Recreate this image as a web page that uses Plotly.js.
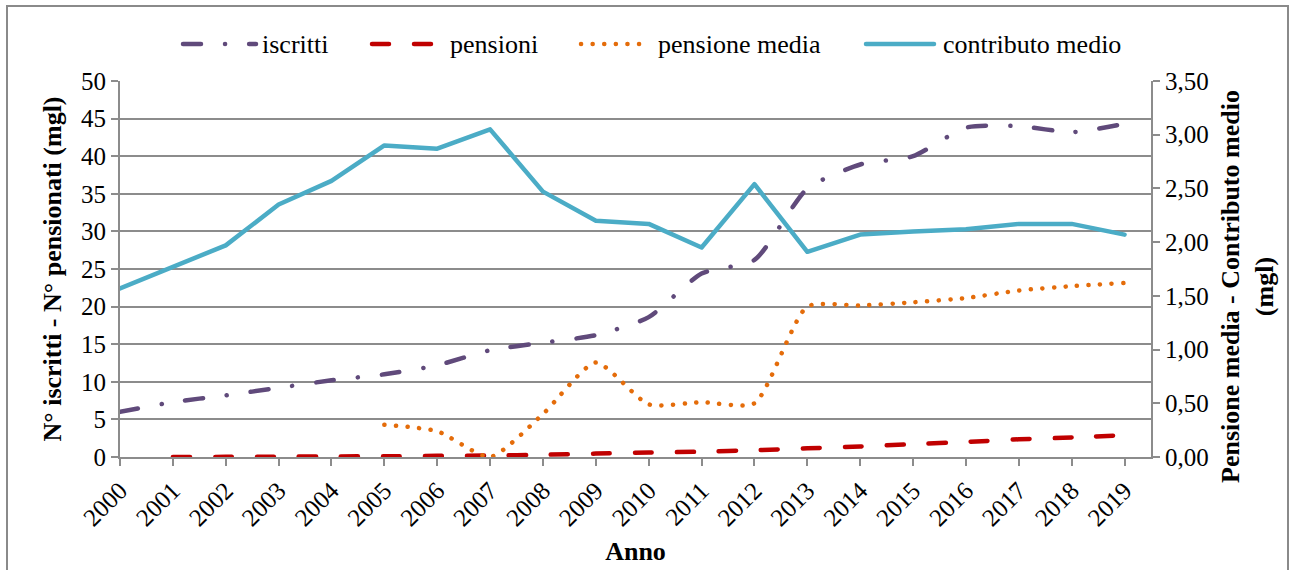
<!DOCTYPE html>
<html>
<head>
<meta charset="utf-8">
<script src="https://cdn.plot.ly/plotly-3.0.1.min.js"></script>
</head>
<body style="margin:0;background:#fff">
<div id="wrap" style="position:relative;width:1297px;height:570px">
  <div id="chart" style="position:absolute;left:0;top:0;width:1297px;height:570px"></div>
  <div id="frame" style="position:absolute;left:6px;top:5px;width:1283px;height:580px;border:2px solid #8a8a8a;pointer-events:none;box-sizing:border-box"></div>
</div>
<script>
const anni = [2000, 2001, 2002, 2003, 2004, 2005, 2006, 2007, 2008, 2009,
              2010, 2011, 2012, 2013, 2014, 2015, 2016, 2017, 2018, 2019];
const iscritti = [6.0, 7.3, 8.2, 9.2, 10.2, 11.0, 12.2, 14.2, 15.2, 16.2,
                  18.6, 24.4, 26.2, 35.7, 38.9, 40.0, 43.8, 44.0, 43.2, 44.3];
const pensioni = [null, 0.0, 0.02, 0.05, 0.07, 0.1, 0.15, 0.2, 0.3, 0.45,
                  0.6, 0.7, 0.9, 1.15, 1.4, 1.7, 2.0, 2.35, 2.6, 2.9];
const pensioneMedia = [null, null, null, null, null, 0.30, 0.24, 0.0, 0.40, 0.88,
                       0.49, 0.51, 0.50, 1.40, 1.41, 1.44, 1.48, 1.55, 1.59, 1.62];
const contributoMedio = [1.57, 1.77, 1.97, 2.35, 2.57, 2.90, 2.87, 3.05, 2.47, 2.20,
                         2.17, 1.95, 2.54, 1.91, 2.07, 2.10, 2.12, 2.17, 2.17, 2.07];
const seriesNames = ['iscritti', 'pensioni', 'pensione media', 'contributo medio'];
const leftTicks = [0, 5, 10, 15, 20, 25, 30, 35, 40, 45, 50];
const rightTicks = [0, 0.5, 1, 1.5, 2, 2.5, 3, 3.5];
const rightTickText = ['0,00', '0,50', '1,00', '1,50', '2,00', '2,50', '3,00', '3,50'];

const FONT = 'Liberation Serif';
const GRID = '#8c8c8c';

const styles = [
  { color: '#604A7B', width: 4.5, dash: '18px,24px,0.1px,24px' },
  { color: '#C00000', width: 4.5, dash: '17px,25px' },
  { color: '#E46C0A', width: 4.5, dash: '0.1px,11.5px' },
  { color: '#4BACC6', width: 4.5, dash: 'solid' }
];

const traces = [
  { x: anni, y: iscritti, name: seriesNames[0], type: 'scatter', mode: 'lines',
    line: Object.assign({ shape: 'spline', smoothing: 0.6 }, styles[0]), yaxis: 'y' },
  { x: anni, y: pensioni, name: seriesNames[1], type: 'scatter', mode: 'lines',
    line: Object.assign({ shape: 'spline', smoothing: 0.6 }, styles[1]), yaxis: 'y' },
  { x: anni, y: pensioneMedia, name: seriesNames[2], type: 'scatter', mode: 'lines',
    line: Object.assign({ shape: 'spline', smoothing: 0.6 }, styles[2]), yaxis: 'y2' },
  { x: anni, y: contributoMedio, name: seriesNames[3], type: 'scatter', mode: 'lines',
    line: Object.assign({}, styles[3]), yaxis: 'y2' }
];

const ML = 120, MR = 146, MT = 81, MB = 113, W = 1297, H = 570;
const PW = W - ML - MR, PH = H - MT - MB;
const px = v => (v - ML) / PW;
const py = v => (H - MB - v) / PH;
const legendItems = [
  { x0: 183, x1: 256, tx: 260 },
  { x0: 372, x1: 434, tx: 448 },
  { x0: 581, x1: 646, tx: 656 },
  { x0: 866, x1: 934, tx: 941 }
];
const legendY = 44;
const shapes = [], annotations = [];
legendItems.forEach((it, i) => {
  shapes.push({ type: 'line', xref: 'paper', yref: 'paper',
    x0: px(it.x0), x1: px(it.x1), y0: py(legendY), y1: py(legendY),
    line: { color: styles[i].color, width: styles[i].width, dash: styles[i].dash } });
  annotations.push({ xref: 'paper', yref: 'paper', x: px(it.tx), y: py(legendY),
    xanchor: 'left', yanchor: 'middle', showarrow: false, text: seriesNames[i],
    font: { family: FONT, size: 26, color: '#000' } });
});
annotations.push({ xref: 'paper', yref: 'paper', x: px(1247), y: py(287),
  xanchor: 'center', yanchor: 'middle', showarrow: false, textangle: -90, align: 'center',
  text: '<b>Pensione media - Contributo medio<br>(mgl)</b>',
  font: { family: FONT, size: 26, color: '#000' } });

const layout = {
  width: W, height: H,
  margin: { l: ML, r: MR, t: MT, b: MB, pad: 0 },
  paper_bgcolor: '#ffffff', plot_bgcolor: '#ffffff',
  font: { family: FONT, size: 25, color: '#000' },
  showlegend: false,
  shapes: shapes,
  annotations: annotations,
  xaxis: {
    type: 'linear', range: [2000, 2019.5], tickmode: 'array', tickvals: anni,
    ticktext: anni.map(String), tickangle: -45,
    ticks: 'outside', ticklen: 7, tickwidth: 2, tickcolor: GRID,
    showline: true, linecolor: GRID, linewidth: 2, showgrid: false, zeroline: false,
    tickfont: { family: FONT, size: 25, color: '#000' },
    title: { text: '<b>Anno</b>', font: { family: FONT, size: 26, color: '#000' }, standoff: 12 },
    fixedrange: true
  },
  yaxis: {
    range: [0, 50], tickmode: 'array', tickvals: leftTicks,
    ticks: 'outside', ticklen: 7, tickwidth: 2, tickcolor: GRID,
    showline: true, linecolor: GRID, linewidth: 2,
    showgrid: true, gridcolor: GRID, gridwidth: 2, zeroline: false,
    tickfont: { family: FONT, size: 25, color: '#000' },
    title: { text: '<b>N° iscritti - N° pensionati (mgl)</b>', font: { family: FONT, size: 26, color: '#000' }, standoff: 12 },
    fixedrange: true
  },
  yaxis2: {
    overlaying: 'y', side: 'right', anchor: 'x',
    range: [0, 3.5], tickmode: 'array', tickvals: rightTicks, ticktext: rightTickText,
    ticks: 'outside', ticklen: 7, tickwidth: 2, tickcolor: GRID,
    showline: true, linecolor: GRID, linewidth: 2,
    showgrid: false, zeroline: false,
    tickfont: { family: FONT, size: 25, color: '#000' },
    fixedrange: true
  }
};

Plotly.newPlot('chart', traces, layout, { displayModeBar: false }).then(gd => {
  gd.querySelectorAll('path.js-line, .shapelayer path').forEach(p => {
    p.style.strokeLinecap = 'round';
    p.style.strokeLinejoin = 'round';
  });
});
</script>
</body>
</html>
